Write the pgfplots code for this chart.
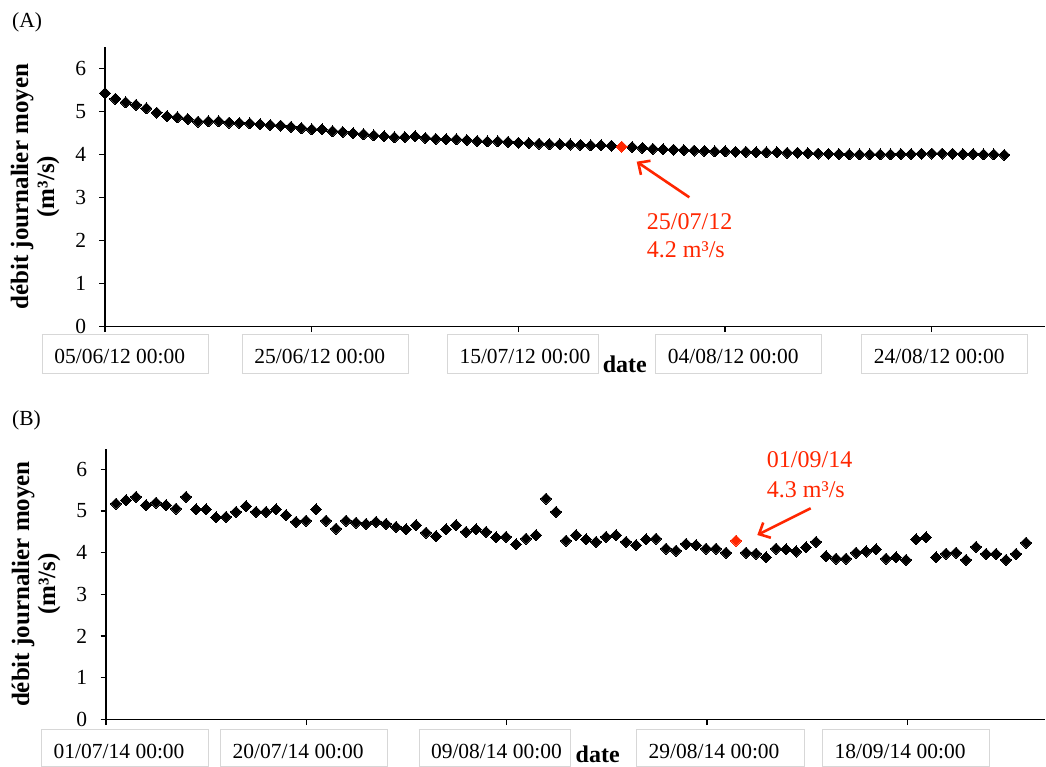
\documentclass[border=0pt]{standalone}
\usepackage{pgfplots}
\pgfplotsset{compat=1.18}
\usepackage{pgfplotstable}
\usepackage{fontspec}
\setmainfont{Liberation Serif}
\usetikzlibrary{arrows.meta}
\definecolor{annot}{RGB}{255,38,0}
\definecolor{boxgray}{RGB}{215,215,215}
% date label box: #1 offset from tick, #2 box width, #3 depth below baseline, #4 text
\newcommand\dbox[4]{\hspace*{#1pt}{\setlength{\fboxsep}{0pt}\setlength{\fboxrule}{1pt}\fcolorbox{boxgray}{white}{\makebox[#2pt][l]{\hspace{11.5pt}\rule[-#3pt]{0pt}{\dimexpr 28pt+#3pt\relax}#4}}}}

\pgfplotstableread{
d q
0 5.42
1 5.29
2 5.21
3 5.15
4 5.07
5 4.97
6 4.89
7 4.86
8 4.82
9 4.76
10 4.77
11 4.77
12 4.74
13 4.73
14 4.72
15 4.70
16 4.68
17 4.67
18 4.64
19 4.61
20 4.58
21 4.58
22 4.54
23 4.52
24 4.49
25 4.47
26 4.44
27 4.42
28 4.40
29 4.40
30 4.42
31 4.38
32 4.36
33 4.35
34 4.35
35 4.33
36 4.31
37 4.30
38 4.30
39 4.29
40 4.27
41 4.26
42 4.25
43 4.24
44 4.24
45 4.23
46 4.22
47 4.21
48 4.21
49 4.20
51 4.17
52 4.15
53 4.13
54 4.12
55 4.11
56 4.10
57 4.09
58 4.08
59 4.07
60 4.07
61 4.06
62 4.06
63 4.05
64 4.05
65 4.05
66 4.04
67 4.04
68 4.03
69 4.02
70 4.01
71 4.01
72 4.00
73 4.00
74 4.00
75 4.00
76 4.00
77 4.01
78 4.01
79 4.02
80 4.02
81 4.02
82 4.02
83 4.01
84 4.01
85 4.00
86 4.00
87 3.99
}\dataA

\pgfplotstableread{
n q
1 5.18
2 5.26
3 5.34
4 5.14
5 5.20
6 5.14
7 5.06
8 5.34
9 5.04
10 5.04
11 4.85
12 4.86
13 4.98
14 5.12
15 4.98
16 4.98
17 5.04
18 4.90
19 4.74
20 4.77
21 5.04
22 4.77
23 4.58
24 4.77
25 4.72
26 4.69
27 4.74
28 4.69
29 4.62
30 4.56
31 4.66
32 4.48
33 4.40
34 4.56
35 4.66
36 4.50
37 4.56
38 4.50
39 4.37
40 4.38
41 4.20
42 4.34
43 4.42
44 5.30
45 4.98
46 4.29
47 4.42
48 4.32
49 4.26
50 4.38
51 4.42
52 4.26
53 4.18
54 4.32
55 4.34
56 4.10
57 4.05
58 4.21
59 4.18
60 4.10
61 4.10
62 4.00
64 4.00
65 3.98
66 3.89
67 4.10
68 4.08
69 4.03
70 4.13
71 4.26
72 3.92
73 3.86
74 3.86
75 4.00
76 4.03
77 4.08
78 3.86
79 3.89
80 3.83
81 4.32
82 4.37
83 3.89
84 3.98
85 4.00
86 3.83
87 4.14
88 3.97
89 3.97
90 3.83
91 3.97
92 4.24
}\dataB

\pgfplotsset{
  myaxis/.style={
    scale only axis,
    anchor=south west,
    ymin=0, ymax=6.5,
    ytick={0,1,2,3,4,5,6},
    axis lines=left,
    axis line style={-, line width=1.3pt, black},
    tick align=outside,
    major tick length=5.5pt,
    every tick/.style={line width=1.3pt, black},
    /pgf/number format/assume math mode=true,
    yticklabel style={font=\fontsize{21.5}{24}\selectfont, xshift=-6pt},
    xticklabel style={anchor=north west, inner sep=0pt},
    ylabel={débit journalier moyen\\(m³/s)},
    ylabel style={font=\fontsize{25}{26}\bfseries\selectfont, align=center, anchor=center},
    xlabel={date},
    xlabel style={font=\fontsize{24}{26}\bfseries\selectfont, anchor=base, inner sep=0pt},
    clip=false,
  },
  blk/.style={only marks, mark=square*, mark size=3.9pt, mark options={rotate=45, fill=black, draw=black, line width=0pt}},
  redm/.style={only marks, mark=square*, mark size=3.9pt, mark options={rotate=45, fill=annot, draw=annot, line width=0pt}},
}

\begin{document}
\fontsize{21.5}{24}\selectfont
\begin{tikzpicture}
\useasboundingbox (0pt,0pt) rectangle (1046pt,-767pt);

% ---------- Panel A ----------
\begin{axis}[myaxis,
  at={(105pt,-326.7pt)},
  width=940pt, height=280pt,
  xmin=0, xmax=90.95,
  xtick={0,20,40,60,80},
  xticklabels={
    {\dbox{-63.3}{165}{10}{05/06/12 00:00}},
    {\dbox{-70}{165}{10}{25/06/12 00:00}},
    {\dbox{-71.6}{150}{10}{15/07/12 00:00}},
    {\dbox{-70}{165}{10}{04/08/12 00:00}},
    {\dbox{-70.7}{165}{10}{24/08/12 00:00}}},
  xticklabel style={yshift=-1.8pt},
  xlabel style={at={(axis description cs:0.553,0)}, yshift=-46pt},
  ylabel style={at={(axis description cs:-0.0745,0.5)}},
]
\addplot[blk] table[x=d, y=q] {\dataA};
\addplot[redm] coordinates {(50,4.18)};
\end{axis}

% ---------- Panel B ----------
\begin{axis}[myaxis,
  at={(106pt,-719.5pt)},
  width=939pt, height=271pt,
  xmin=0, xmax=93.9,
  xtick={0,20.03,40.06,60.09,80.12},
  xticklabels={
    {\dbox{-65}{166}{8}{01/07/14 00:00}},
    {\dbox{-86.3}{165.3}{8}{20/07/14 00:00}},
    {\dbox{-88.3}{150.7}{8}{09/08/14 00:00}},
    {\dbox{-70.9}{166.3}{8}{29/08/14 00:00}},
    {\dbox{-85.2}{165.3}{8}{18/09/14 00:00}}},
  xticklabel style={yshift=-3.8pt},
  xlabel style={at={(axis description cs:0.5236,0)}, yshift=-43pt},
  ylabel style={at={(axis description cs:-0.0745,0.5)}},
]
\addplot[blk] table[x=n, y=q] {\dataB};
\addplot[redm] coordinates {(63,4.29)};
\end{axis}

% panel letters
\node[anchor=base west, inner sep=0pt] at (12pt,-28pt) {(A)};
\node[anchor=base west, inner sep=0pt] at (12pt,-425pt) {(B)};

% annotations
\begin{scope}[annot]
\node[anchor=base west, inner sep=0pt, font=\fontsize{24}{26}\selectfont] at (646.7pt,-230pt) {25/07/12};
\node[anchor=base west, inner sep=0pt, font=\fontsize{24}{26}\selectfont] at (646.7pt,-258pt) {4.2 m³/s};
\draw[line width=2.6pt, -{Straight Barb[length=9pt, width=17pt, line width=2.6pt]}] (689.3pt,-197.3pt) -- (636.7pt,-161.7pt);
\node[anchor=base west, inner sep=0pt, font=\fontsize{24}{26}\selectfont] at (766.7pt,-467pt) {01/09/14};
\node[anchor=base west, inner sep=0pt, font=\fontsize{24}{26}\selectfont] at (766.7pt,-497pt) {4.3 m³/s};
\draw[line width=2.6pt, -{Straight Barb[length=9pt, width=17pt, line width=2.6pt]}] (810.7pt,-508.3pt) -- (757.3pt,-535pt);
\end{scope}
\end{tikzpicture}
\end{document}
